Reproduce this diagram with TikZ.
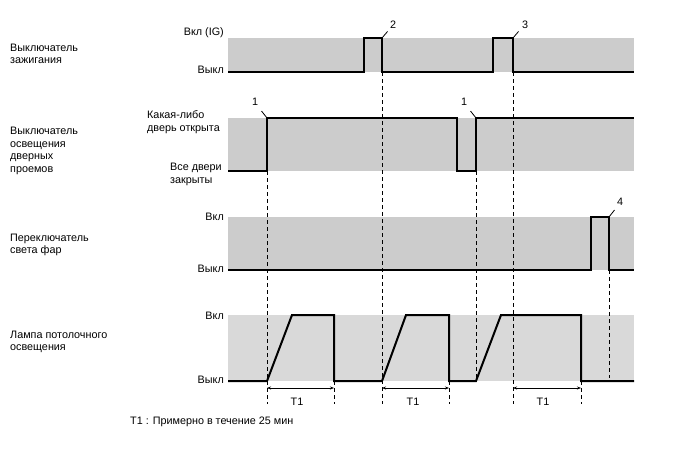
\documentclass[tikz,border=0pt]{standalone}
\usepackage{fontspec}
\setmainfont{Liberation Sans}
\usetikzlibrary{arrows.meta}

\begin{document}
\begin{tikzpicture}[x=1pt, y=-1pt,
  band/.style={fill=#1, draw=none},
  signal/.style={line width=2pt, line join=miter},
  guide/.style={dash pattern=on 4pt off 3pt, line width=0.8pt},
  txt/.style={font=\fontsize{10.8}{12.6}\selectfont, inner sep=0pt, align=left},
  callout/.style={line width=0.8pt},
  dim/.style={{Stealth[length=4pt,width=3pt]}-{Stealth[length=4pt,width=3pt]}, line width=0.7pt}
]
\useasboundingbox (0,0) rectangle (688,463);

% bands
\fill[band=black!20] (228,38) rectangle (634,72);
\fill[band=black!20] (228,118) rectangle (634,171);
\fill[band=black!20] (228,217) rectangle (634,270);
\fill[band=black!15] (228,315) rectangle (634,381);

% row titles
\node[txt, anchor=west] (ig) at (10,54) {Выключатель\\зажигания};
\node[txt, anchor=west] (door) at (10,151) {Выключатель\\освещения\\дверных\\проемов};
\node[txt, anchor=west] (head) at (10,245) {Переключатель\\света фар};
\node[txt, anchor=west] (lamp) at (10,342) {Лампа потолочного\\освещения};

% level names
\node[txt, anchor=east] (igon) at (224,33) {Вкл (IG)};
\node[txt, anchor=east] (igoff) at (224,70) {Выкл};
\node[txt, anchor=west] (dooropen) at (147,122) {Какая-либо\\дверь открыта};
\node[txt, anchor=west] (doorshut) at (170,174.5) {Все двери\\закрыты};
\node[txt, anchor=east] (headon) at (224,217) {Вкл};
\node[txt, anchor=east] (headoff) at (224,269) {Выкл};
\node[txt, anchor=east] (lampon) at (224,316) {Вкл};
\node[txt, anchor=east] (lampoff) at (224,380) {Выкл};

% guides
\draw[guide] (267,171) -- (267,404);
\draw[guide] (382,72) -- (382,404);
\draw[guide] (476,171) -- (476,381);
\draw[guide] (513,72) -- (513,404);
\draw[guide] (609,270) -- (609,378);
\draw[guide] (334,381) -- (334,404);
\draw[guide] (449,381) -- (449,404);
\draw[guide] (581,381) -- (581,404);

% signals
\draw[signal] (228,72) -- (364,72) -- (364,38) -- (382,38) -- (382,72) -- (493,72)
  -- (493,38) -- (513,38) -- (513,72) -- (634,72);
\draw[signal] (228,171) -- (267,171) -- (267,118) -- (457,118) -- (457,171)
  -- (476,171) -- (476,118) -- (634,118);
\draw[signal] (228,270) -- (591,270) -- (591,217) -- (609,217) -- (609,270) -- (634,270);
\draw[signal] (228,381) -- (267,381) -- (292,315) -- (334,315) -- (334,381) -- (382,381)
  -- (406,315) -- (449,315) -- (449,381) -- (476,381) -- (501,315) -- (581,315)
  -- (581,381) -- (634,381);

% callouts
\node[txt] (n2) at (393,25) {2};
\node[txt] (n3) at (525,25) {3};
\node[txt] (n1a) at (255,102) {1};
\node[txt] (n1b) at (464,102) {1};
\node[txt] (n4) at (620,202) {4};
\draw[callout] (382,38) -- (387.5,31.5);
\draw[callout] (513,38) -- (518.5,31.5);
\draw[callout] (267,118) -- (261.5,111);
\draw[callout] (476,118) -- (470.5,111);
\draw[callout] (609,217) -- (614.5,210);

% T1 spans
\coordinate (s1) at (267,388); \coordinate (e1) at (334,388);
\coordinate (s2) at (382,388); \coordinate (e2) at (449,388);
\coordinate (s3) at (513,388); \coordinate (e3) at (581,388);
\draw[dim] (s1) -- (e1);
\draw[dim] (s2) -- (e2);
\draw[dim] (s3) -- (e3);
\node[txt] (t1a) at (297,402) {T1};
\node[txt] (t1b) at (413,402) {T1};
\node[txt] (t1c) at (543,402) {T1};

\node[txt, anchor=west] (note) at (130,422) {T1 : Примерно в течение 25 мин};
\end{tikzpicture}
\end{document}
